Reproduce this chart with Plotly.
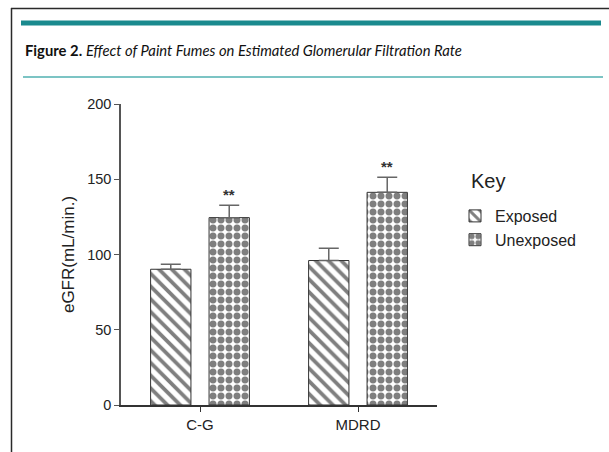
import plotly.graph_objects as go

categories = ["C-G", "MDRD"]
exposed = [90.2, 96.0]
exposed_err = [3.3, 8.1]
unexposed = [124.5, 141.3]
unexposed_err = [8.2, 10.0]
sig_labels = ["**", "**"]
y_ticks = [0, 50, 100, 150, 200]

FONT = "Arial, Liberation Sans, sans-serif"

W, H = 609, 452
l, r, t, b = 121, 172, 104, 47
pw, ph = W - l - r, H - t - b
def px(xp):
    return (xp - l) / pw
def py(yp):
    return (H - b - yp) / ph

fig = go.Figure()
fig.add_trace(go.Bar(
    name="Exposed", x=categories, y=exposed,
    marker=dict(color="white", line=dict(color="#333333", width=1),
                pattern=dict(shape="\\", fgcolor="black", bgcolor="white", size=9, solidity=0.42)),
    error_y=dict(type="data", array=exposed_err, arrayminus=[0, 0], symmetric=False,
                 color="#666666", thickness=1.5, width=10),
))
fig.add_trace(go.Bar(
    name="Unexposed", x=categories, y=unexposed,
    marker=dict(color="white", line=dict(color="#333333", width=1),
                pattern=dict(shape=".", fgcolor="black", bgcolor="white", size=8, solidity=0.6)),
    error_y=dict(type="data", array=unexposed_err, arrayminus=[0, 0], symmetric=False,
                 color="#666666", thickness=1.5, width=10),
))

for c, v, e, s in zip(categories, unexposed, unexposed_err, sig_labels):
    fig.add_annotation(x=c, y=v + e, xref="x", yref="y", text=f"<b>{s}</b>", showarrow=False,
                       xshift=29, yanchor="bottom", yshift=0,
                       font=dict(family=FONT, size=15, color="#333333"))

# "Key" legend heading
fig.add_annotation(x=px(469), y=py(181), xref="paper", yref="paper", text="Key", showarrow=False,
                   font=dict(family=FONT, size=20, color="#222222"), xanchor="left", yanchor="middle")

fig.update_layout(
    width=W, height=H,
    margin=dict(l=l, r=r, t=t, b=b),
    paper_bgcolor="white", plot_bgcolor="white",
    barmode="group", bargap=0.26, bargroupgap=0.31,
    showlegend=True,
    legend=dict(x=px(455), y=py(199), xanchor="left", yanchor="top",
                font=dict(family=FONT, size=16, color="#222222"),
                bgcolor="rgba(0,0,0,0)", tracegroupgap=0),
    xaxis=dict(range=[-0.5, 1.5], showline=True, linecolor="#333333", linewidth=1.5,
               ticks="outside", ticklen=5, tickcolor="#333333", tickwidth=1,
               tickfont=dict(family=FONT, size=15, color="#222222"), showgrid=False, zeroline=False),
    yaxis=dict(range=[0, 200], tickvals=y_ticks, showline=True, linecolor="#555555", linewidth=1.5,
               ticks="outside", ticklen=5, tickcolor="#555555", tickwidth=1,
               tickfont=dict(family=FONT, size=14.5, color="#222222"), showgrid=False, zeroline=False,
               title=dict(text="eGFR(mL/min.)", font=dict(family=FONT, size=17, color="#222222"), standoff=8)),
)

# page decorations: frame, teal rules, figure caption
fig.add_shape(type="line", xref="paper", yref="paper", x0=px(11), x1=px(609), y0=py(8.5), y1=py(8.5),
              line=dict(color="#2a2a2a", width=1.5))
fig.add_shape(type="line", xref="paper", yref="paper", x0=px(11.5), x1=px(11.5), y0=py(8), y1=py(452),
              line=dict(color="#2a2a2a", width=1.5))
fig.add_shape(type="line", xref="paper", yref="paper", x0=px(21), x1=px(601), y0=py(23), y1=py(23),
              line=dict(color="#1a8a8e", width=5))
fig.add_shape(type="line", xref="paper", yref="paper", x0=px(23), x1=px(603), y0=py(77), y1=py(77),
              line=dict(color="#7cc4c4", width=2))
fig.add_annotation(x=px(23), y=py(50), xref="paper", yref="paper", showarrow=False,
                   xanchor="left", yanchor="middle",
                   text="<b>Figure 2.</b> <i>Effect of Paint Fumes on Estimated Glomerular Filtration Rate</i>",
                   font=dict(family="Lato, Open Sans, sans-serif", size=14.8, color="#111111"))

fig.write_html("out.html", config={"displayModeBar": False},
               post_script="document.body.style.margin='0';document.body.style.overflow='hidden';")
